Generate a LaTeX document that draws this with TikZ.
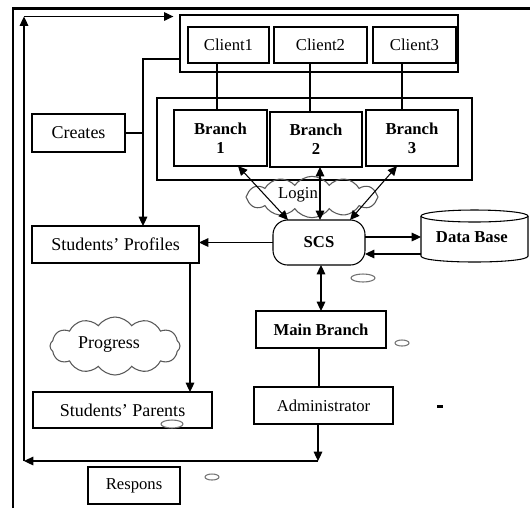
\documentclass[tikz,border=0pt]{standalone}
\usepackage{fontspec}
\setmainfont{Liberation Serif}
\usetikzlibrary{shapes.symbols,arrows.meta,calc}
\begin{document}
\begin{tikzpicture}[x=0.75pt,y=-0.75pt,
  every node/.style={inner sep=0pt,outer sep=0pt,align=center,font=\fontsize{12.5}{14}\selectfont},
  box/.style={draw=black,line width=0.8pt,rectangle},
  bigtxt/.style={font=\fontsize{13.5}{16}\selectfont},
  boldtxt/.style={font=\fontsize{12.5}{14.5}\selectfont\bfseries},
  cloudshape/.style={draw=black!65,line width=0.8pt,cloud,cloud puffs=12,cloud puff arc=110,cloud ignores aspect},
  blob/.style={draw=black!55,line width=0.8pt,fill=white},
  arr/.style={line width=0.8pt,-{Triangle[length=7pt,width=6.5pt]}},
  darr/.style={line width=0.8pt,{Triangle[length=7pt,width=6.5pt]}-{Triangle[length=7pt,width=6.5pt]}},
  ln/.style={line width=0.8pt}]
\useasboundingbox (0,0) rectangle (530,508);
% frame
\draw[line width=2.2pt] (13,508) -- (13,8.5) -- (530,8.5);

% clients
\node[box,minimum width=208.5pt,minimum height=42.75pt] (cg) at (319,43.5) {};
\node[box,minimum width=60.75pt,minimum height=27pt] (c1) at (228.5,45) {Client1};
\node[box,minimum width=69.75pt,minimum height=27pt] (c2) at (320.5,45) {Client2};
\node[box,minimum width=62.25pt,minimum height=27pt] (c3) at (414.5,45) {Client3};

% branches
\node[box,minimum width=236.25pt,minimum height=61.5pt] (bg) at (314.5,139) {};
\node[box,boldtxt,minimum width=69.75pt,minimum height=42pt] (b1) at (220.5,138) {Branch\\1};
\node[box,boldtxt,minimum width=69pt,minimum height=41.25pt] (b2) at (316,139.5) {Branch\\2};
\node[box,boldtxt,minimum width=69pt,minimum height=42pt] (b3) at (412,138) {Branch\\3};

% left column
\node[box,bigtxt,minimum width=69.75pt,minimum height=28.5pt] (cr) at (78.5,133) {Creates};
\node[box,bigtxt,minimum width=125.25pt,minimum height=27.75pt] (sp) at (115.5,244.5) {Students' Profiles};
\node[box,bigtxt,minimum width=134.25pt,minimum height=27pt] (pp) at (122.5,410) {Students' Parents};
\node[box,minimum width=69pt,minimum height=27.75pt] (rs) at (134,485.5) {Respons};
\node[cloudshape,minimum width=97.5pt,minimum height=43.5pt] (prog) at (115,346) {};
\node[bigtxt] (progt) at (109,345) {Progress};

% centre column
\node[cloudshape,minimum width=99pt,minimum height=31pt] (login) at (312,197) {};
\node (logint) at (298,195) {Login};
\node[box,boldtxt,rounded corners=11pt,minimum width=69pt,minimum height=33.75pt] (scs) at (319,242.5) {SCS};
\node[box,boldtxt,minimum width=97.5pt,minimum height=27.75pt] (mb) at (321,329.5) {Main Branch};
\node[box,minimum width=104.25pt,minimum height=27.75pt] (adm) at (323.5,405.5) {Administrator};

% data base cylinder
\node[boldtxt,minimum width=80.25pt,minimum height=39pt] (db) at (474.5,237) {\hspace*{-4pt}Data Base};
\draw[ln] (421,216) -- (421,256) .. controls (421,264) and (528,264) .. (528,256) -- (528,216);
\draw[ln] (474.5,216) ellipse [x radius=40.1pt, y radius=4.5pt];

% stray marks
\draw[blob] (363,278) ellipse [x radius=9pt, y radius=3pt];
\draw[blob] (402,343) ellipse [x radius=5.25pt, y radius=2.25pt];
\draw[blob] (172,424) ellipse [x radius=8.25pt, y radius=3pt];
\draw[blob] (212,477) ellipse [x radius=5.25pt, y radius=2.25pt];
\fill (437,405) rectangle (443,407.5);

% coordinates for connectors
\coordinate (l1) at (217,0);
\coordinate (l2) at (310,0);
\coordinate (l3) at (402,0);
\coordinate (j) at (143,59);
\coordinate (l4) at (190,0);
\coordinate (l6) at (321,0);
\coordinate (l7) at (319,0);
\coordinate (l8) at (318,0);
\coordinate (l9) at (320,0);
\coordinate (y1) at (0,237);
\coordinate (y2) at (0,254);
\coordinate (ca) at (318,461);
\coordinate (cb) at (24,461);
\coordinate (cc) at (24,16.5);

% client-branch links
\draw[ln] (c1.south -| l1) -- (b1.north -| l1);
\draw[ln] (c2.south -| l2) -- (b2.north -| l2);
\draw[ln] (c3.south -| l3) -- (b3.north -| l3);

% clients -> students' profiles, creates
\draw[arr] (cg.west |- j) -- (j) -- (j |- sp.north);
\draw[ln] (cr.east) -- (j |- cr.east);

% branches <-> SCS
\draw[darr] ([xshift=13.1pt]b1.south) -- ([xshift=-23.25pt]scs.north);
\draw[darr] (b2.south -| l9) -- (scs.north -| l9);
\draw[darr] ([xshift=-11.25pt]b3.south) -- ([xshift=23.25pt]scs.north);

% SCS links
\draw[arr] (scs.west) -- (sp.east |- scs.west);
\draw[arr] (scs.east |- y1) -- (db.west |- y1);
\draw[arr] (db.west |- y2) -- (scs.east |- y2);
\draw[darr] (scs.south -| l6) -- (mb.north -| l6);
\draw[ln] (mb.south -| l7) -- (adm.north -| l7);

% profiles -> parents
\draw[arr] (sp.south -| l4) -- (pp.north -| l4);

% feedback loop
\draw[arr] (adm.south -| l8) -- (ca);
\draw[arr] (ca) -- (cb);
\draw[arr] (cb) -- (cc);
\draw[arr,shorten >=5pt] (cc) -- (cg.west |- cc);
\end{tikzpicture}
\end{document}
